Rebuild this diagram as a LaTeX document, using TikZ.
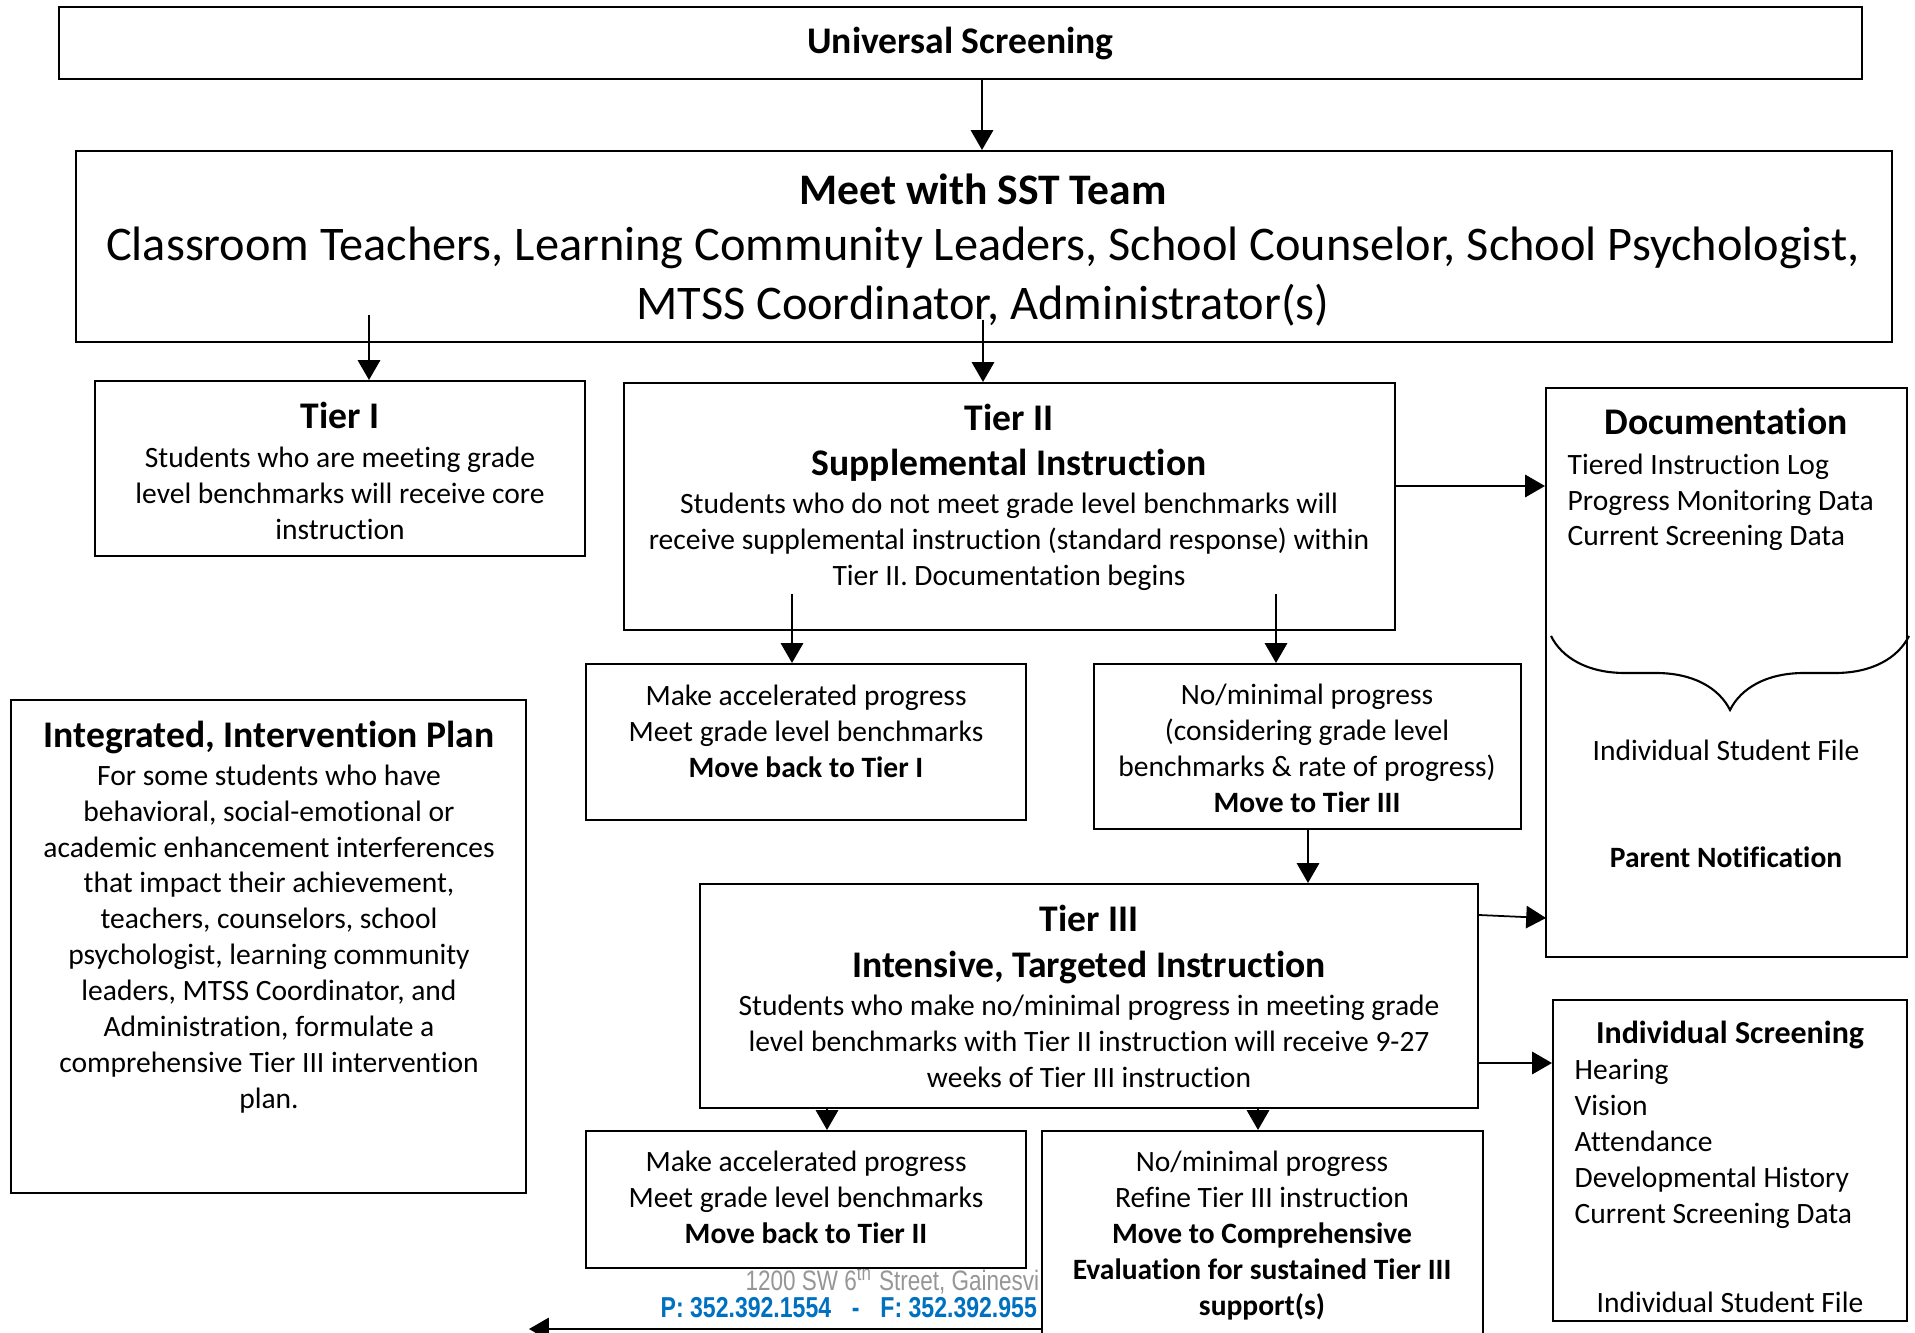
\documentclass[tikz,border=0pt]{standalone}
\usepackage{fontspec}
\setmainfont{Carlito}[Ligatures=NoCommon, RawFeature={-calt;-clig}]
\newfontfamily\narrowfont[FakeStretch=0.8]{Liberation Sans}
\usepackage{tikz}
\usetikzlibrary{arrows}
\usetikzlibrary{decorations.pathreplacing}

\definecolor{addrgray}{RGB}{150,150,150}
\definecolor{addrblue}{RGB}{0,112,192}

\tikzset{
  box/.style={draw, line width=0.6pt, fill=white, inner sep=0pt},
  link/.style={-triangle 60, line width=0.5pt},
  body/.style={align=center, inner sep=0pt, font=\fontsize{8.4}{10.2}\selectfont},
  list/.style={align=left, inner sep=0pt, font=\fontsize{8.4}{10.2}\selectfont},
  head/.style={inner sep=0pt, font=\fontsize{10.7}{12.8}\selectfont\bfseries},
}

\begin{document}
\begin{tikzpicture}[x=0.1mm, y=-0.1mm]
  \clip (0,0) rectangle (1915,1333);
  \fill[white] (0,0) rectangle (1915,1333);

  % address footer (partly hidden behind the last box)
  \node[anchor=base west, inner sep=0pt, text=addrgray, font=\narrowfont\fontsize{8}{9}\selectfont] (addr) at (745,1290) {1200 SW 6\textsuperscript{th} Street, Gainesvi};
  \node[anchor=base west, inner sep=0pt, text=addrblue, font=\narrowfont\fontsize{8.2}{9}\selectfont\bfseries] (phone) at (660,1317) {P: 352.392.1554 \enspace - \enspace F: 352.392.955};

  % universal screening
  \node[box, minimum width=180.3mm, minimum height=7.2mm, head] (us) at (960.5,43) {Universal Screening};

  % SST team
  \node[box, minimum width=181.6mm, minimum height=19.1mm] (meet) at (984,246.5) {};
  \node[head, anchor=base, font=\fontsize{12.4}{14}\selectfont\bfseries] (meethead) at (983,205) {Meet with SST Team};
  \node[inner sep=0pt, anchor=base, align=center, font=\fontsize{13.75}{16.8}\selectfont] (meetlist) at (983,320) {Classroom Teachers, Learning Community Leaders, School Counselor, School Psychologist,\\ MTSS Coordinator, Administrator(s)};

  % tier 1
  \node[box, minimum width=49mm, minimum height=17.5mm] (tier1) at (340,468.5) {};
  \node[head, anchor=base] (tier1head) at (340,429) {Tier I};
  \node[body, anchor=base] (tier1body) at (340,539) {Students who are meeting grade\\ level benchmarks will receive core\\ instruction};

  % tier 2
  \node[box, minimum width=77.1mm, minimum height=24.7mm] (tier2) at (1009.5,506.5) {};
  \node[head, anchor=base] (tier2head) at (1009,430) {Tier II};
  \node[head, anchor=base] (tier2sub) at (1009,476) {Supplemental Instruction};
  \node[body, anchor=base] (tier2body) at (1009,585) {Students who do not meet grade level benchmarks will\\ receive supplemental instruction (standard response) within\\ Tier II.\ Documentation begins};

  % documentation
  \node[box, minimum width=36.1mm, minimum height=56.9mm] (doc) at (1726.5,672.5) {};
  \node[head, anchor=base] (dochead) at (1726,435) {Documentation};
  \node[list, anchor=base west] (doclist) at (1567,546) {Tiered Instruction Log\\ Progress Monitoring Data\\ Current Screening Data};
  \draw[line width=0.6pt, decorate, decoration={brace, amplitude=7.4mm}] (1909,636) -- (1551,636);
  \node[body, anchor=base] (docfile) at (1726,760) {Individual Student File};
  \node[body, anchor=base, font=\fontsize{8.4}{10.2}\selectfont\bfseries] (docparent) at (1726,867) {Parent Notification};

  % tier 2 outcomes
  \node[box, minimum width=44mm, minimum height=15.6mm] (up1) at (806,742) {};
  \node[body, anchor=base] (up1txt) at (806,777) {Make accelerated progress\\ Meet grade level benchmarks\\ \textbf{Move back to Tier I}};
  \node[box, minimum width=42.7mm, minimum height=16.5mm] (down1) at (1307.5,746.5) {};
  \node[body, anchor=base] (down1txt) at (1307,812) {No/minimal progress\\ (considering grade level\\ benchmarks \& rate of progress)\\ \textbf{Move to Tier III}};

  % intervention plan
  \node[box, minimum width=51.5mm, minimum height=49.3mm] (plan) at (268.5,946.5) {};
  \node[head, anchor=base] (planhead) at (269,747) {Integrated, Intervention Plan};
  \node[body, anchor=base] (planbody) at (269,1108) {For some students who have\\ behavioral, social-emotional or\\ academic enhancement interferences\\ that impact their achievement,\\ teachers, counselors, school\\ psychologist, learning community\\ leaders, MTSS Coordinator, and\\ Administration, formulate a\\ comprehensive Tier III intervention\\ plan.};

  % tier 3
  \node[box, minimum width=77.8mm, minimum height=22.4mm] (tier3) at (1089,996) {};
  \node[head, anchor=base] (tier3head) at (1089,931) {Tier III};
  \node[head, anchor=base] (tier3sub) at (1089,977) {Intensive, Targeted Instruction};
  \node[body, anchor=base] (tier3body) at (1089,1087) {Students who make no/minimal progress in meeting grade\\ level benchmarks with Tier II instruction will receive 9-27\\ weeks of Tier III instruction};

  % individual screening
  \node[box, minimum width=35.4mm, minimum height=32.1mm] (screen) at (1730,1160.5) {};
  \node[head, anchor=base, font=\fontsize{9.1}{11}\selectfont\bfseries] (screenhead) at (1730,1043) {Individual Screening};
  \node[list, anchor=base west] (screenlist) at (1574,1223) {Hearing\\ Vision\\ Attendance\\ Developmental History\\ Current Screening Data};
  \node[body, anchor=base] (screenfile) at (1730,1312) {Individual Student File};

  % tier 3 outcomes
  \node[box, minimum width=44mm, minimum height=13.7mm] (up2) at (806,1199.5) {};
  \node[body, anchor=base] (up2txt) at (806,1243) {Make accelerated progress\\ Meet grade level benchmarks\\ \textbf{Move back to Tier II}};
  \node[box, minimum width=44.1mm, minimum height=22mm] (down2) at (1262.5,1241) {};
  \node[body, anchor=base] (down2txt) at (1262,1315) {No/minimal progress\\ Refine Tier III instruction\\ \textbf{Move to Comprehensive}\\ \textbf{Evaluation for sustained Tier III}\\ \textbf{support(s)}};

  % connectors
  \coordinate (mid) at (982,0);
  \coordinate (m1) at (369,315);
  \coordinate (m2) at (983,320);
  \coordinate (t2a) at (792,594);
  \coordinate (t2b) at (1276,594);
  \coordinate (t3d) at (1479,915);
  \coordinate (docin) at (1546,918);
  \coordinate (foot) at (529,1329);
  \draw[link] (us.south -| mid) -- (meet.north -| mid);
  \draw[link] (m1) -- (tier1.north -| m1);
  \draw[link] (m2) -- (tier2.north -| m2);
  \draw[link] (tier2.east |- 0,486) -- (doc.west |- 0,486);
  \draw[link] (t2a) -- (up1.north -| t2a);
  \draw[link] (t2b) -- (down1.north -| t2b);
  \draw[link] (down1.south -| 1308,0) -- (tier3.north -| 1308,0);
  \draw[link] (t3d) -- (docin);
  \draw[link] (tier3.east |- 0,1063) -- (screen.west |- 0,1063);
  \draw[link] (tier3.south -| 827,0) -- (up2.north -| 827,0);
  \draw[link] (tier3.south -| 1258,0) -- (down2.north -| 1258,0);
  \draw[link] (down2.west |- foot) -- (foot);
\end{tikzpicture}
\end{document}
